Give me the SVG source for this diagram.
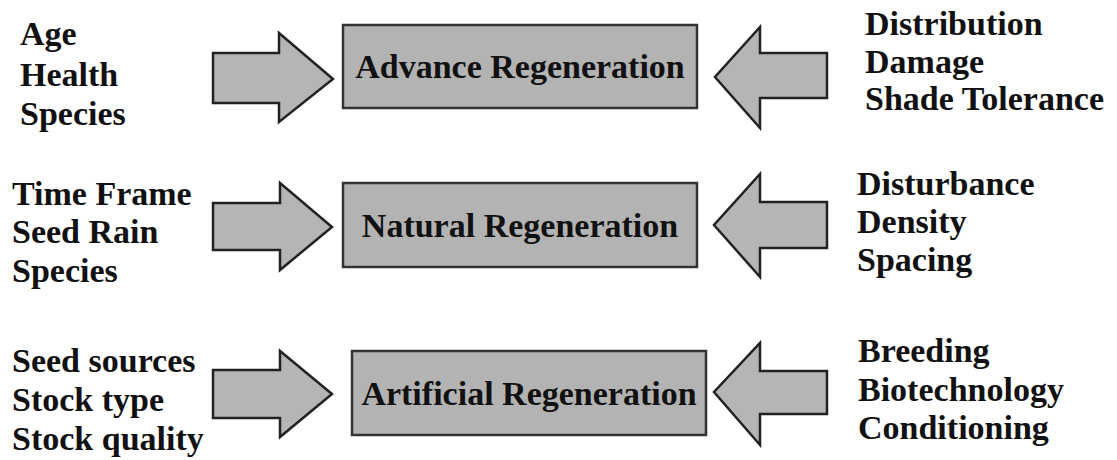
<svg xmlns="http://www.w3.org/2000/svg" width="1117" height="460" viewBox="0 0 1117 460">
<style>
  text { font-family: "Liberation Serif", "Times New Roman", serif; font-weight: bold; font-size: 34px; fill: #111; }
  .box { fill: #b3b3b3; stroke: #333; stroke-width: 2.5; }
  .arrow { fill: #b5b5b5; stroke: #222; stroke-width: 2.5; stroke-linejoin: miter; }
  .mid { text-anchor: middle; }
</style>
<rect width="1117" height="460" fill="#fff"/>

<g id="connectors">
  <polygon class="arrow" points="213,53 279,53 279,33 333,79 279,122 279,103 213,103"/>
  <polygon class="arrow" points="827,53 760,53 760,27 715,77 760,128 760,98 827,98"/>
  <polygon class="arrow" points="213,203 280,203 280,183 332,227 280,270 280,250 213,250"/>
  <polygon class="arrow" points="827,202 760,202 760,174 714,225 760,277 760,248 827,248"/>
  <polygon class="arrow" points="213,370 280,370 280,351 332,394 280,437 280,418 213,418"/>
  <polygon class="arrow" points="827,371 760,371 760,343 714,392 760,445 760,414 827,414"/>
</g>

<g id="advance">
  <rect class="box" x="343" y="25" width="354" height="83"/>
  <text class="mid" x="520" y="78">Advance Regeneration</text>
</g>
<g id="natural">
  <rect class="box" x="343" y="183" width="354" height="84"/>
  <text class="mid" x="520" y="237">Natural Regeneration</text>
</g>
<g id="artificial">
  <rect class="box" x="352" y="351" width="354" height="84"/>
  <text class="mid" x="529" y="405">Artificial Regeneration</text>
</g>

<g id="left1">
  <text x="20" y="45">Age</text>
  <text x="20" y="86">Health</text>
  <text x="20" y="125">Species</text>
</g>
<g id="right1">
  <text x="865" y="35">Distribution</text>
  <text x="865" y="73">Damage</text>
  <text x="865" y="110">Shade Tolerance</text>
</g>
<g id="left2">
  <text x="12" y="205">Time Frame</text>
  <text x="12" y="243">Seed Rain</text>
  <text x="12" y="282">Species</text>
</g>
<g id="right2">
  <text x="857" y="195">Disturbance</text>
  <text x="857" y="233">Density</text>
  <text x="857" y="271">Spacing</text>
</g>
<g id="left3">
  <text x="12" y="372">Seed sources</text>
  <text x="12" y="411">Stock type</text>
  <text x="12" y="450">Stock quality</text>
</g>
<g id="right3">
  <text x="858" y="362">Breeding</text>
  <text x="858" y="401">Biotechnology</text>
  <text x="858" y="439">Conditioning</text>
</g>
</svg>
